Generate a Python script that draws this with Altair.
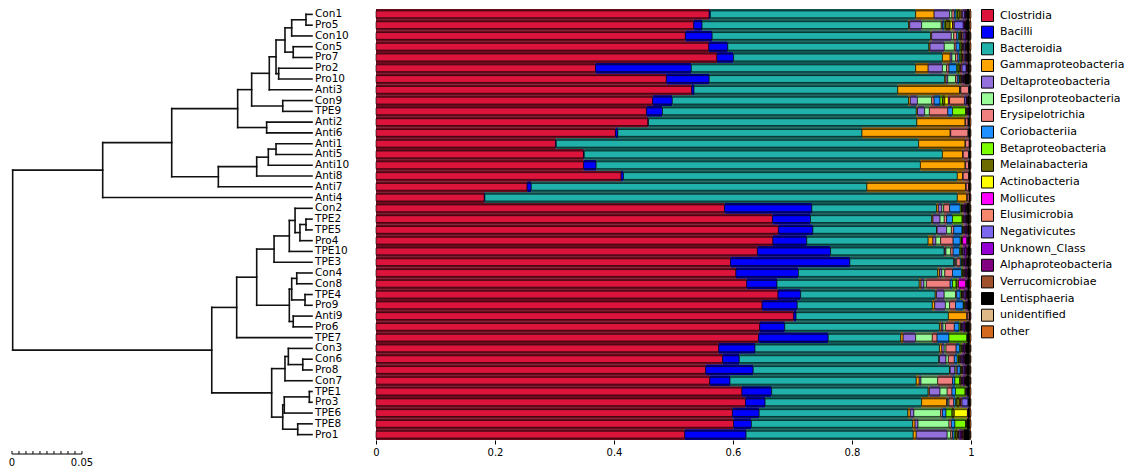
import altair as alt
import pandas as pd

samples = ["Con1", "Pro5", "Con10", "Con5", "Pro7", "Pro2", "Pro10", "Anti3", "Con9", "TPE9",
           "Anti2", "Anti6", "Anti1", "Anti5", "Anti10", "Anti8", "Anti7", "Anti4", "Con2", "TPE2",
           "TPE5", "Pro4", "TPE10", "TPE3", "Con4", "Con8", "TPE4", "Pro9", "Anti9", "Pro6",
           "TPE7", "Con3", "Con6", "Pro8", "Con7", "TPE1", "Pro3", "TPE6", "TPE8", "Pro1"]

categories = ["Clostridia", "Bacilli", "Bacteroidia", "Gammaproteobacteria", "Deltaproteobacteria",
              "Epsilonproteobacteria", "Erysipelotrichia", "Coriobacteriia", "Betaproteobacteria",
              "Melainabacteria", "Actinobacteria", "Mollicutes", "Elusimicrobia", "Negativicutes",
              "Unknown_Class", "Alphaproteobacteria", "Verrucomicrobiae", "Lentisphaeria",
              "unidentified", "other"]

colors = ["#DC143C", "#0000FF", "#20B2AA", "#FFA500", "#9370DB", "#98FB98", "#F08080", "#1E90FF",
          "#7CFC00", "#6B6B00", "#FFFF00", "#FF00FF", "#F4876C", "#7B68EE", "#9400D3", "#800080",
          "#A0522D", "#000000", "#DEB887", "#D2691E"]

clostridia = [.560, .534, .520, .561, .573, .369, .488, .530, .465, .455,
              .457, .402, .302, .349, .349, .412, .254, .182, .587, .667,
              .677, .667, .641, .597, .605, .623, .675, .649, .702, .645,
              .643, .576, .582, .554, .561, .615, .621, .599, .601, .519]
bacilli = [.002, .014, .045, .032, .028, .161, .072, .004, .033, .027,
           .001, .004, .001, .001, .021, .004, .007, .001, .147, .064,
           .058, .057, .123, .201, .105, .051, .038, .059, .004, .042,
           .117, .061, .028, .080, .034, .050, .033, .045, .030, .103]
bacteroidia = [.345, .347, .367, .339, .351, .377, .396, .342, .397, .427,
               .451, .410, .609, .602, .545, .561, .564, .794, .210, .204,
               .208, .204, .191, .175, .234, .239, .226, .227, .256, .260,
               .122, .310, .335, .330, .313, .263, .263, .250, .271, .281]
gammaproteobacteria = [.031, .002, .002, .002, .013, .021, .002, .104, .003, .002,
                       .081, .148, .078, .034, .075, .009, .166, .016, .003, .002,
                       .001, .008, .001, .001, .003, .003, .002, .004, .031, .003,
                       .004, .004, .001, .001, .005, .002, .042, .004, .004, .005]
deltaproteobacteria = [.026, .020, .033, .024, .003, .024, .003, .001, .012, .012,
                       .001, .001, .001, .001, .001, .001, .001, .001, .006, .012,
                       .016, .005, .002, .002, .004, .005, .013, .018, .001, .003,
                       .021, .004, .011, .008, .003, .018, .002, .006, .005, .052]
epsilonproteobacteria = [.004, .033, .004, .017, .006, .007, .013, .001, .024, .008,
                         0, 0, 0, 0, 0, 0, 0, 0, .003, .007,
                         .008, .008, .008, .002, .005, .004, .019, .007, 0, .004,
                         .028, .003, .004, .002, .028, .012, .002, .045, .052, .006]
erysipelotrichia = [.004, .002, .005, .003, .004, .004, .003, .013, .004, .031,
                    .004, .029, .006, .009, .005, .009, .004, .003, .010, .004,
                    .004, .021, .004, .006, .013, .040, .002, .010, .003, .015,
                    .008, .017, .010, .002, .025, .008, .008, .003, .004, .003]
coriobacteriia = [.003, .003, .003, .006, .003, .013, .003, .001, .010, .008,
                  .001, .001, 0, .001, 0, 0, 0, 0, .018, .010,
                  .014, .012, .011, .002, .015, .004, .006, .013, 0, .008,
                  .020, .006, .005, .005, .004, .006, .003, .006, .006, .003]
betaproteobacteria = [.002, .002, .002, .002, .002, .002, .001, 0, .004, .022,
                      0, 0, 0, 0, 0, 0, 0, 0, .002, .016,
                      .001, .002, .002, .001, .002, .006, .002, .001, 0, .002,
                      .030, .002, .002, .001, .008, .016, .002, .010, .018, .002]
melainabacteria = [.004, .008, .002, .002, .002, .003, .002, 0, .004, .001,
                   0, 0, 0, 0, 0, 0, 0, 0, .001, .001,
                   .001, .001, .001, .001, .001, .002, .001, .001, 0, .001,
                   .001, .001, .002, .001, .002, .001, .005, .004, .001, .003]
actinobacteria = [.002, .004, .001, .001, .001, .001, .001, 0, .006, .001,
                  0, 0, 0, 0, 0, 0, 0, 0, .001, .001,
                  .001, .001, .001, .001, .001, .002, .001, .001, 0, .001,
                  0, .001, .001, .001, .001, .001, .001, .022, .001, .001]
mollicutes = [.001, .001, .001, .001, .001, .001, .001, 0, .002, .001,
              0, 0, 0, 0, 0, 0, 0, 0, .001, .001,
              .001, .007, .001, .001, .001, .012, .001, .001, 0, .001,
              0, .001, .001, .001, .001, 0, .001, .001, 0, .001]
elusimicrobia = [.002, .002, .002, .001, .002, .002, .001, 0, .025, .001,
                 0, 0, 0, 0, 0, 0, 0, 0, .001, .001,
                 .001, .001, .001, .001, .001, .001, .001, .001, 0, .001,
                 0, .001, .001, .001, .001, 0, .002, 0, 0, .001]
negativicutes = [.003, .015, .003, .002, .002, .007, .001, 0, .003, .001,
                 0, 0, 0, 0, 0, 0, 0, 0, .001, .002,
                 .001, .001, .002, .001, .001, .001, .002, .001, 0, .002,
                 0, .001, .002, .002, .001, .001, .010, 0, 0, .002]
unknown_class = [.002, .002, .002, .001, .001, .001, .001, 0, .001, .001,
                 0, 0, 0, 0, 0, 0, 0, 0, .002, .001,
                 .002, .001, .003, .002, .002, .001, .002, .001, 0, .002,
                 0, .002, .002, .002, .002, .001, .001, 0, 0, .002]
alphaproteobacteria = [.001, .001, .001, .001, .001, .001, .001, 0, .001, 0,
                       0, 0, 0, 0, 0, 0, 0, 0, .001, .001,
                       .001, 0, .002, .001, .001, 0, .001, .001, 0, .001,
                       0, .001, .001, .001, .001, 0, 0, 0, 0, .002]
verrucomicrobiae = [.001, .001, .001, .001, .001, .001, .001, 0, .001, 0,
                    0, 0, 0, 0, 0, 0, 0, 0, .001, .001,
                    .001, 0, .001, .001, .001, 0, .001, 0, 0, .001,
                    0, .001, .001, .001, .001, 0, 0, 0, 0, .002]
lentisphaeria = [.004, .006, .004, .004, .004, .003, .008, .002, .003, .002,
                 .002, .003, .002, .002, .003, .003, .003, .002, .005, .004,
                 .003, .002, .004, .004, .004, .004, .004, .004, .002, .006,
                 .004, .006, .008, .005, .007, .004, .003, .003, .005, .010]
unidentified = [.001, .001, .001, .001, .001, .001, .001, 0, .001, 0,
                0, 0, 0, 0, 0, 0, 0, 0, .001, .001,
                .001, 0, .001, .001, .001, 0, .001, 0, 0, .001,
                0, .001, .001, .001, .001, 0, 0, 0, 0, .001]
other = [.002, .002, .001, .002, .001, .001, .001, .001, .001, .001,
         .002, .001, .001, .001, .001, .001, .001, .001, .001, .001,
         .001, .002, 0, .001, 0, .002, .001, .001, .001, .001,
         .002, .001, .001, .001, .001, .002, .001, .002, .002, .001]

class_values = [clostridia, bacilli, bacteroidia, gammaproteobacteria, deltaproteobacteria,
                epsilonproteobacteria, erysipelotrichia, coriobacteriia, betaproteobacteria,
                melainabacteria, actinobacteria, mollicutes, elusimicrobia, negativicutes,
                unknown_class, alphaproteobacteria, verrucomicrobiae, lentisphaeria,
                unidentified, other]

# hierarchical clustering merges: (node, left, right, height)
merges = [
    ("a1", "Con1", "Pro5", 0.0043), ("a2", "a1", "Con10", 0.0145), ("a3", "Con5", "Pro7", 0.0134),
    ("a4", "a2", "a3", 0.0193), ("a5", "Pro2", "Pro10", 0.0238), ("a6", "a4", "a5", 0.0257),
    ("a7", "a6", "Anti3", 0.0305), ("a8", "Con9", "TPE9", 0.0209), ("a9", "a7", "a8", 0.0431),
    ("a10", "Anti2", "Anti6", 0.0324), ("a11", "a9", "a10", 0.0531), ("a12", "Anti1", "Anti5", 0.0257),
    ("a13", "a12", "Anti10", 0.0312), ("a14", "a13", "Anti8", 0.0395), ("a15", "a14", "Anti7", 0.0669),
    ("a16", "a11", "a15", 0.1002), ("a17", "a16", "Anti4", 0.1495),
    ("b1", "TPE2", "TPE5", 0.0043), ("b2", "b1", "Pro4", 0.0086), ("b3", "Con2", "b2", 0.0121),
    ("b4", "b3", "TPE10", 0.0162), ("b5", "b4", "TPE3", 0.0271), ("b6", "Con4", "Con8", 0.0109),
    ("b7", "TPE4", "Pro9", 0.0050), ("b8", "b6", "b7", 0.0145), ("b9", "Anti9", "Pro6", 0.0134),
    ("b10", "b8", "b9", 0.0162), ("b11", "b5", "b10", 0.0395), ("b12", "b11", "TPE7", 0.0538),
    ("b13", "Con6", "Pro8", 0.0066), ("b14", "Con3", "b13", 0.0169), ("b15", "b14", "Con7", 0.0193),
    ("b16", "TPE1", "Pro3", 0.0019), ("b17", "b16", "TPE6", 0.0198), ("b18", "TPE8", "Pro1", 0.0102),
    ("b19", "b17", "b18", 0.0209), ("b20", "b15", "b19", 0.0288), ("b21", "b12", "b20", 0.0716),
    ("root", "a17", "b21", 0.2138),
]

scale_bar_ticks = [0, 0.005, 0.01, 0.015, 0.02, 0.025, 0.03, 0.035, 0.04, 0.045, 0.05]
scale_bar_labels = [0, 0.05]
SCALE_BAR_START = 0.2143

# ---------- build tables ----------
rows = []
for ci, (cat, vals) in enumerate(zip(categories, class_values)):
    for s, v in zip(samples, vals):
        if v > 0:
            rows.append({"sample": s, "cls": cat, "ord": ci, "value": v})
bars_df = pd.DataFrame(rows)

pos = {s: i + 0.5 for i, s in enumerate(samples)}
hgt = {s: 0.0 for s in samples}
segs = []
for node, l, r, h in merges:
    for c in (l, r):
        segs.append({"x1": hgt[c], "x2": h, "y1": pos[c], "y2": pos[c]})
    segs.append({"x1": h, "x2": h, "y1": pos[l], "y2": pos[r]})
    pos[node] = (pos[l] + pos[r]) / 2
    hgt[node] = h
seg_df = pd.DataFrame(segs)
label_df = pd.DataFrame({"sample": samples, "h": [0.0] * len(samples),
                         "pos": [i + 0.5 for i in range(len(samples))]})
tick_df = pd.DataFrame({"h": [SCALE_BAR_START - t for t in scale_bar_ticks]})
sbar_df = pd.DataFrame({"h1": [SCALE_BAR_START], "h2": [SCALE_BAR_START - 0.05]})
slab_df = pd.DataFrame({"h": [SCALE_BAR_START - t for t in scale_bar_labels],
                        "txt": ["0", "0.05"]})

# ---------- dendrogram panel ----------
W1, H = 362, 431
PX_PER_UNIT = 1400.0
H_MAX = 304 / PX_PER_UNIT
H_MIN = H_MAX - W1 / PX_PER_UNIT
xs = alt.Scale(domain=[H_MIN, H_MAX], reverse=True, nice=False, zero=False)
ys = alt.Scale(domain=[0, 40], reverse=True, nice=False, zero=False)

dendro = alt.Chart(seg_df).mark_rule(color="#111111", strokeWidth=1.6, strokeCap="square").encode(
    x=alt.X("x1:Q", scale=xs, axis=None), x2="x2:Q",
    y=alt.Y("y1:Q", scale=ys, axis=None), y2="y2:Q")
labels = alt.Chart(label_df).mark_text(align="left", baseline="middle", dx=3, font="DejaVu Sans",
                                       fontSize=10.5, color="black").encode(
    x=alt.X("h:Q", scale=xs, axis=None), y=alt.Y("pos:Q", scale=ys, axis=None), text="sample:N")
sbar = alt.Chart(sbar_df).mark_rule(color="black", strokeWidth=1.2).encode(
    x=alt.X("h1:Q", scale=xs, axis=None), x2="h2:Q", y=alt.value(445))
sticks = alt.Chart(tick_df).mark_rule(color="black", strokeWidth=1).encode(
    x=alt.X("h:Q", scale=xs, axis=None), y=alt.value(442), y2=alt.value(445))
slabs = alt.Chart(slab_df).mark_text(align="center", baseline="middle", font="DejaVu Sans",
                                     fontSize=10, color="black").encode(
    x=alt.X("h:Q", scale=xs, axis=None), y=alt.value(454), text="txt:N")

panel1 = alt.layer(dendro, labels, sbar, sticks, slabs).properties(width=W1, height=H)

# ---------- stacked bars panel ----------
color_scale = alt.Scale(domain=categories, range=colors)
legend = alt.Legend(title=None, symbolType="square", symbolSize=144, symbolStrokeColor="black",
                    symbolStrokeWidth=1, symbolOpacity=1, labelFont="DejaVu Sans", labelFontSize=11,
                    labelColor="black", rowPadding=-0.35, offset=6, padding=0, labelOffset=6,
                    orient="right")
base = alt.Chart(bars_df).encode(
    y=alt.Y("sample:N", sort=samples, scale=alt.Scale(paddingInner=0, paddingOuter=0), axis=None),
    x=alt.X("value:Q", stack="normalize", scale=alt.Scale(domain=[0, 1], nice=False),
            axis=alt.Axis(values=[0, 0.2, 0.4, 0.6, 0.8, 1],
                          labelExpr="format(datum.value, '~g')", title=None, grid=False,
                          domain=False, ticks=True, tickSize=4, tickColor="black",
                          labelFont="DejaVu Sans", labelFontSize=10, labelColor="black",
                          labelFlush=False, labelPadding=3)),
    order=alt.Order("ord:Q"),
)
full = base.mark_bar().encode(color=alt.Color("cls:N", scale=color_scale, legend=legend))
shade = base.mark_bar(color="black", opacity=0.5)
bright = base.mark_bar(size=6.8, stroke="black", strokeWidth=0.6).encode(
    color=alt.Color("cls:N", scale=color_scale, legend=legend))

panel2 = alt.layer(full, shade, bright).properties(width=595, height=H)

chart = alt.hconcat(panel1, panel2, spacing=6, bounds="flush").properties(
    padding={"left": 0, "top": 1, "right": 0, "bottom": 0},
    autosize=alt.AutoSizeParams(type="pad"),
).configure_view(stroke=None)
chart.save("out.html", embed_options={"renderer": "svg", "actions": False})
